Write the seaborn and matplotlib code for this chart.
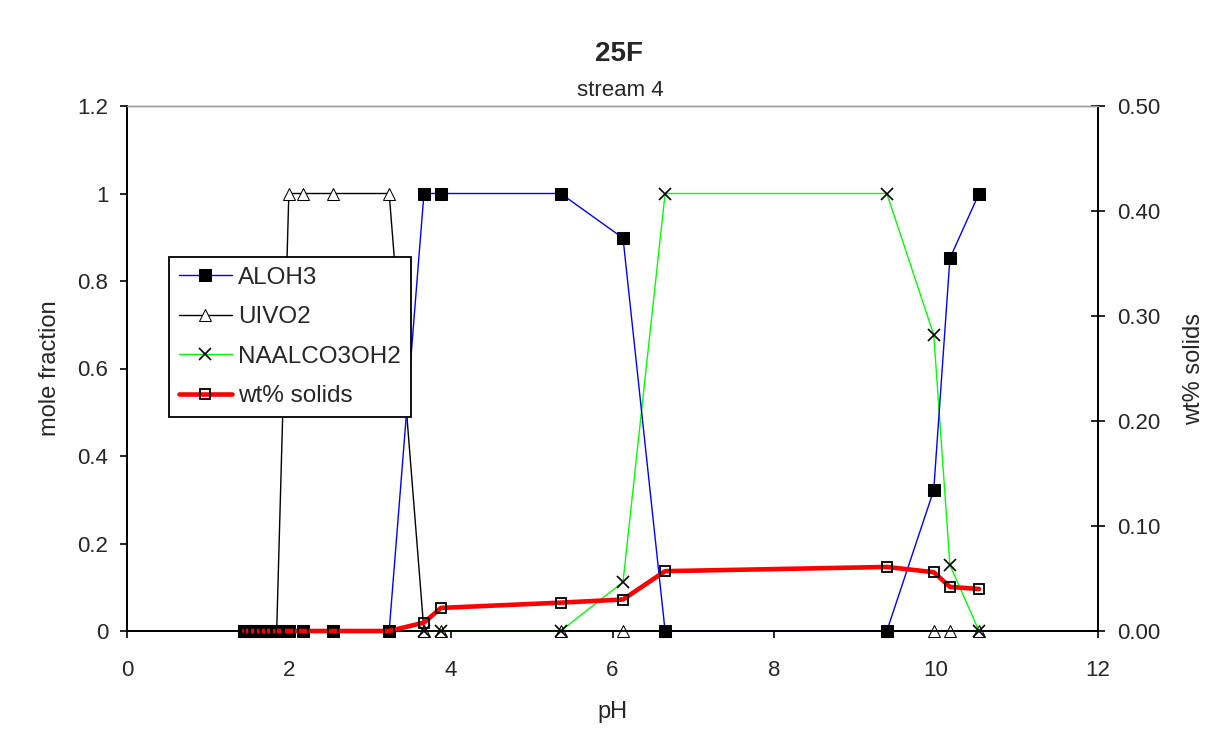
import numpy as np
import pandas as pd
import matplotlib
matplotlib.use("Agg")
import matplotlib.pyplot as plt
import seaborn as sns

# ---- data ----
pH = [1.45, 1.52, 1.58, 1.65, 1.72, 1.78, 1.85, 2.00, 2.18, 2.54, 3.24,
      3.67, 3.88, 5.36, 6.13, 6.65, 9.39, 9.97, 10.17, 10.53]
aloh3 = [0, 0, 0, 0, 0, 0, 0, 0, 0, 0, 0,
         1.0, 1.0, 1.0, 0.898, 0, 0, 0.322, 0.852, 1.0]
uivo2 = [0, 0, 0, 0, 0, 0, 0, 1.0, 1.0, 1.0, 1.0,
         0, 0, 0, 0, 0, 0, 0, 0, 0]
naalco3oh2 = [np.nan] * 11 + [0, 0, 0, 0.112, 1.0, 1.0, 0.677, 0.151, 0]
wt_solids = [0, 0, 0, 0, 0, 0, 0, 0, 0, 0, 0,
             0.008, 0.022, 0.027, 0.030, 0.057, 0.061, 0.056, 0.042, 0.040]

series_names = ["ALOH3", "UIVO2", "NAALCO3OH2", "wt% solids"]
x_ticks = [0, 2, 4, 6, 8, 10, 12]
y_left_ticks = [0, 0.2, 0.4, 0.6, 0.8, 1.0, 1.2]
y_left_labels = ["0", "0.2", "0.4", "0.6", "0.8", "1", "1.2"]
y_right_ticks = [0, 0.1, 0.2, 0.3, 0.4, 0.5]
y_right_labels = ["0.00", "0.10", "0.20", "0.30", "0.40", "0.50"]

sns.set_style("ticks")
plt.rcParams['font.family'] = ['Liberation Sans', 'DejaVu Sans']

fig = plt.figure(figsize=(12.17, 7.48), dpi=100)
ax = fig.add_axes([127 / 1217, 1 - 631 / 748, (1098 - 127) / 1217, (631 - 106) / 748])

df = pd.DataFrame({"pH": pH, series_names[0]: aloh3, series_names[1]: uivo2,
                   series_names[2]: naalco3oh2, "wt": wt_solids})

sns.lineplot(data=df, x="pH", y="ALOH3", ax=ax, color="#0000ff", lw=1.0,
             marker="s", markersize=9, markerfacecolor="black", markeredgecolor="black",
             label="ALOH3", sort=False, zorder=3.5, clip_on=False)
sns.lineplot(data=df, x="pH", y="UIVO2", ax=ax, color="black", lw=1.0,
             marker="^", markersize=8, markerfacecolor="white", markeredgecolor="black",
             label="UIVO2", sort=False, zorder=3, clip_on=False)
dfn = df.dropna(subset=["NAALCO3OH2"])
sns.lineplot(data=dfn, x="pH", y="NAALCO3OH2", ax=ax, color="#00ff00", lw=1.0,
             marker="x", markersize=8, markeredgecolor="black", markeredgewidth=1.2,
             label="NAALCO3OH2", sort=False, zorder=3.2, clip_on=False)

ax2 = ax.twinx()
sns.lineplot(data=df, x="pH", y="wt", ax=ax2, color="#ff0000", lw=3.3,
             marker="s", markersize=7.5, markerfacecolor="none", markeredgecolor="black",
             markeredgewidth=1.3, label="wt% solids", sort=False, zorder=4, clip_on=False)

ax.set_xlim(0, 12)
ax.set_ylim(0, 1.2)
ax2.set_ylim(0, 0.5)
ax.set_xticks(x_ticks)
ax.set_xticklabels([str(t) for t in x_ticks])
ax.set_yticks(y_left_ticks)
ax.set_yticklabels(y_left_labels)
ax2.set_yticks(y_right_ticks)
ax2.set_yticklabels(y_right_labels)

for a in (ax, ax2):
    for s in a.spines.values():
        s.set_color("black")
        s.set_linewidth(1.3)
    a.spines["top"].set_color("#999999")
    a.spines["top"].set_linewidth(1.0)

ax.tick_params(axis="y", labelsize=16, direction="out", length=5, width=1.2, color="black", pad=8.5)
ax.tick_params(axis="x", labelsize=16, direction="out", length=5, width=1.2, color="black", pad=16)
ax2.tick_params(axis="y", labelsize=16, direction="inout", length=10, width=1.2, color="black", pad=9)

ax.set_xlabel("pH", fontsize=17, labelpad=14)
ax.set_ylabel("mole fraction", fontsize=17, labelpad=12)
ax2.set_ylabel("wt% solids", fontsize=17, labelpad=16)

fig.text(619 / 1217, 1 - 54 / 748, "25F", ha="center", va="center",
         fontsize=20, fontweight="bold")
fig.text(620 / 1217, 1 - 90 / 748, "stream 4", ha="center", va="center",
         fontsize=16)

h1, l1 = ax.get_legend_handles_labels()
h2, l2 = ax2.get_legend_handles_labels()
if ax.get_legend() is not None:
    ax.get_legend().remove()
leg = ax2.legend(h1 + h2, l1 + l2, loc="upper left",
                 bbox_to_anchor=(169 / 1217, 1 - 257 / 748), bbox_transform=fig.transFigure,
                 borderaxespad=0, frameon=True, fancybox=False, edgecolor="black",
                 fontsize=17.5, handlelength=2.2, labelspacing=0.72, borderpad=0.4,
                 handletextpad=0.25)
leg.get_frame().set_linewidth(1.3)
leg.get_frame().set_facecolor("white")
leg.get_frame().set_alpha(1)

fig.savefig("out.png", dpi=100)
